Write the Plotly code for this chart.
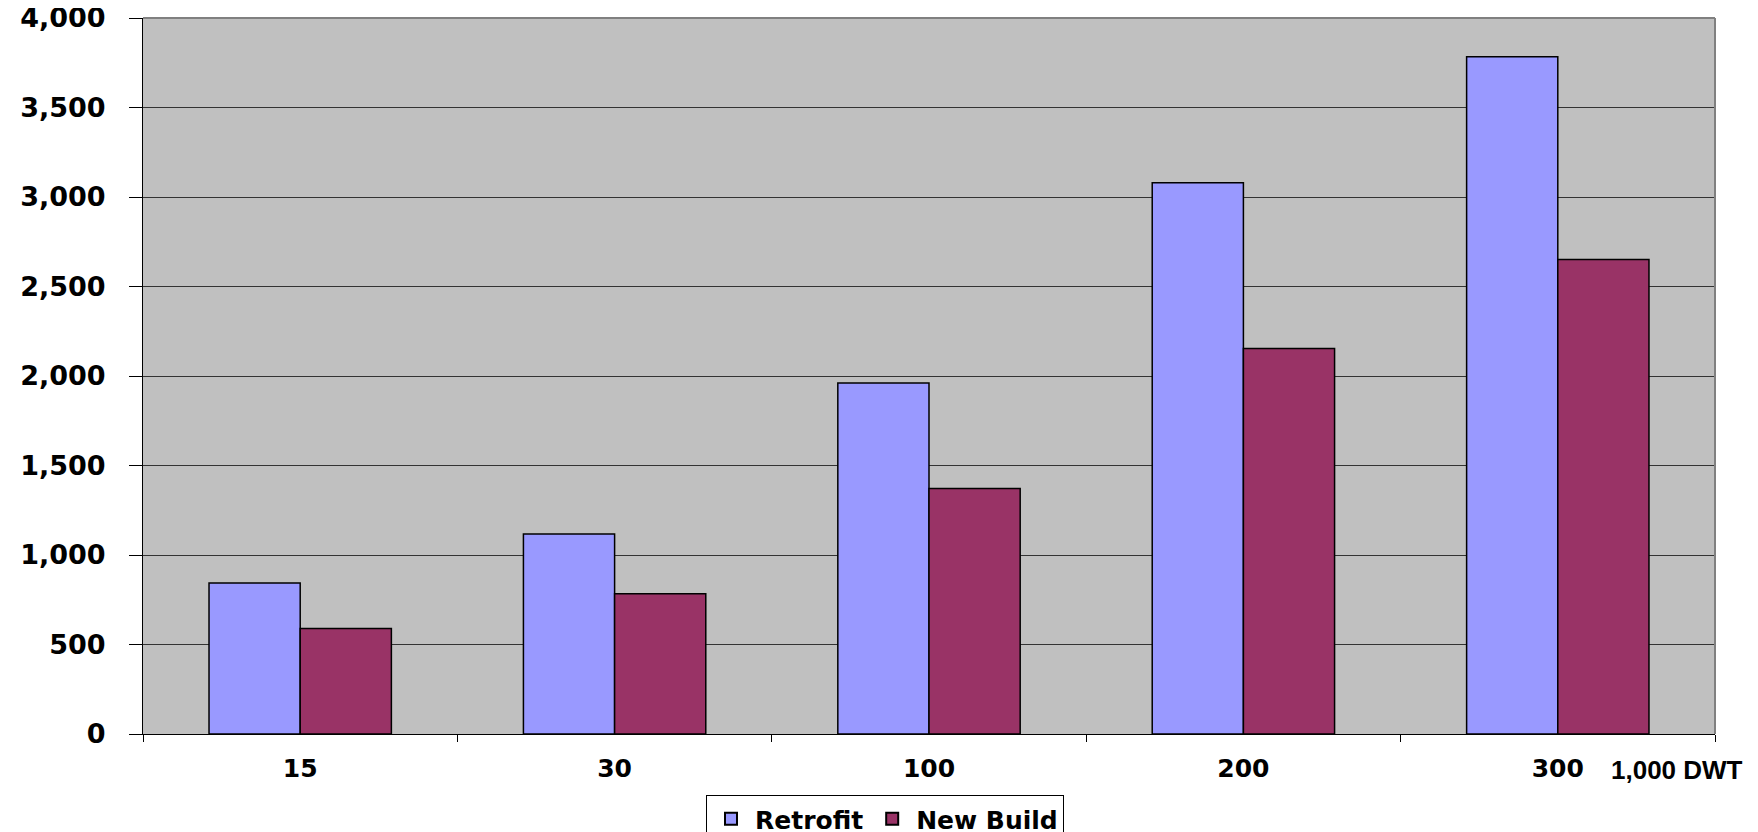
import plotly.graph_objects as go

categories = ["15", "30", "100", "200", "300"]
retrofit = [843, 1117, 1961, 3080, 3783]
new_build = [590, 783, 1371, 2154, 2651]
y_ticks = [0, 500, 1000, 1500, 2000, 2500, 3000, 3500, 4000]

W, H = 1750, 824
OFF = 8  # page body margin
# target plot area in page pixels
PL, PR, PT, PB = 143, 1715, 18, 734
L, T = PL - OFF, PT - OFF
R = W - (PR - OFF)
B = H - (PB - OFF)
PW, PH = PR - PL, PB - PT

fig = go.Figure()
fig.add_trace(go.Bar(
    x=categories, y=retrofit, name="Retrofit",
    marker=dict(color="#9999FF", line=dict(color="#000000", width=1.5)),
))
fig.add_trace(go.Bar(
    x=categories, y=new_build, name="New Build",
    marker=dict(color="#993366", line=dict(color="#000000", width=1.5)),
))

fig.update_layout(
    width=W, height=H,
    margin=dict(l=L, r=R, t=T, b=B, pad=0, autoexpand=False),
    paper_bgcolor="#FFFFFF",
    plot_bgcolor="#C0C0C0",
    barmode="group",
    bargap=0.42,
    bargroupgap=0.0,
    showlegend=True,
    legend=dict(
        orientation="h",
        xref="container", yref="container",
        x=(885 - OFF) / W, xanchor="center",
        y=1 - (795 - OFF) / H, yanchor="top",
        bgcolor="#FFFFFF", bordercolor="#000000", borderwidth=1,
        font=dict(family="DejaVu Sans", size=25, color="#000000", weight="bold"),
        itemsizing="constant",
        itemwidth=38,
        tracegroupgap=0,
    ),
    xaxis=dict(
        type="category",
        automargin=False,
        tickson="boundaries",
        ticks="outside", ticklen=7, tickcolor="#000000", tickwidth=1,
        showline=True, linecolor="#000000", linewidth=1,
        showgrid=False,
        tickfont=dict(family="DejaVu Sans", size=25, color="#000000", weight="bold"),
        ticklabelstandoff=12,
        ticklabeloverflow="allow",
    ),
    yaxis=dict(
        range=[0, 4000],
        automargin=False,
        tickvals=y_ticks,
        tickformat=",",
        ticks="outside", ticklen=13, tickcolor="#000000", tickwidth=1,
        showline=True, linecolor="#000000", linewidth=1,
        showgrid=True, gridcolor="#333333", gridwidth=1,
        zeroline=False,
        tickfont=dict(family="DejaVu Sans", size=27, color="#000000", weight="bold"),
        ticklabelstandoff=18,
        ticklabeloverflow="allow",
    ),
    shapes=[
        dict(type="line", xref="paper", yref="paper", x0=0, x1=1, y0=1, y1=1,
             line=dict(color="#808080", width=2), layer="above"),
        dict(type="line", xref="paper", yref="paper", x0=1, x1=1, y0=0, y1=1,
             line=dict(color="#808080", width=2), layer="above"),
    ],
    annotations=[
        dict(text="1,000 DWT", xref="paper", yref="paper",
             x=(1609 - PL) / PW, xanchor="left",
             y=(PB - 770) / PH, yanchor="middle",
             showarrow=False,
             font=dict(family="Liberation Sans", size=26, color="#000000", weight="bold")),
    ],
)

fig.write_html("out.html")
